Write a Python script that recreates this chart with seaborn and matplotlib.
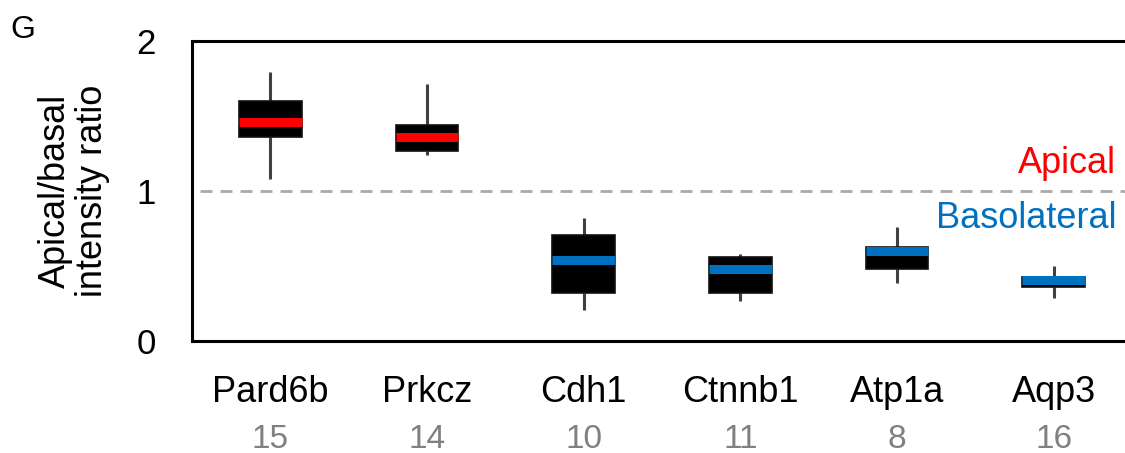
import numpy as np
import pandas as pd
import matplotlib

matplotlib.use("Agg")
import matplotlib.pyplot as plt
import seaborn as sns

# -------------------------
# Data (five-number summaries)
# -------------------------
genes = ["Pard6b", "Prkcz", "Cdh1", "Ctnnb1", "Atp1a", "Aqp3"]
n_cells = [15, 14, 10, 11, 8, 16]
whisker_low = [1.08, 1.24, 0.21, 0.27, 0.39, 0.29]
q1 = [1.36, 1.27, 0.32, 0.32, 0.48, 0.36]
median = [1.46, 1.36, 0.54, 0.48, 0.60, 0.41]
q3 = [1.60, 1.44, 0.71, 0.56, 0.625, 0.43]
whisker_high = [1.79, 1.71, 0.82, 0.58, 0.76, 0.50]
polarity = ["Apical", "Apical", "Basolateral", "Basolateral", "Basolateral", "Basolateral"]

RED = "#ff0000"
BLUE = "#0070c0"
polarity_colors = {"Apical": RED, "Basolateral": BLUE}

# long table: 5 values per gene -> quartiles land exactly on q1 / median / q3
rows = []
for i, g in enumerate(genes):
    for v in (whisker_low[i], q1[i], median[i], q3[i], whisker_high[i]):
        rows.append({"gene": g, "ratio": v})
df = pd.DataFrame(rows)

# -------------------------
# Plot
# -------------------------
sns.set_style("white")
plt.rcParams["font.family"] = ["Liberation Sans", "DejaVu Sans"]
plt.rcParams["text.color"] = "black"
plt.rcParams["axes.labelcolor"] = "black"
plt.rcParams["xtick.color"] = "black"
plt.rcParams["ytick.color"] = "black"

fig = plt.figure(figsize=(11.25, 4.53), dpi=100)
ax = fig.add_axes([0.1707, 0.2472, 0.8356, 0.6623])

sns.boxplot(
    data=df, x="gene", y="ratio", order=genes, ax=ax,
    width=0.4, whis=(0, 100), showcaps=False, showfliers=False,
    color="black", linecolor="#111111", linewidth=1.2,
    boxprops=dict(facecolor="black", zorder=2),
    whiskerprops=dict(color="#404040", linewidth=2.2, zorder=1),
    medianprops=dict(linewidth=6.5, solid_capstyle="butt", zorder=3),
)

for i, line in enumerate(ax.containers[0].medians):
    line.set_color(polarity_colors[polarity[i]])

ax.axhline(1, xmin=0.008, color="#aaaaaa", linewidth=2, dashes=(4.3, 2.9), zorder=0)

ax.text(5.4, 1.12, "Apical", color=RED, fontsize=26, ha="right", va="baseline")
ax.text(5.4, 0.753, "Basolateral", color=BLUE, fontsize=26, ha="right", va="baseline")

ax.set_xlim(-0.5, 5.5)
ax.set_ylim(0, 2)
ax.set_yticks([0, 1, 2])
ax.tick_params(axis="y", length=0, pad=26, labelsize=25)
ax.tick_params(axis="x", length=0, pad=24.5)
ax.set_xticks(range(len(genes)))
ax.set_xticklabels(genes, fontsize=26)
ax.set_xlabel("")

for i, n in enumerate(n_cells):
    ax.text(i, -0.357, str(n), transform=ax.get_xaxis_transform(),
            ha="center", va="baseline", fontsize=24, color="#808080")

ax.set_ylabel("Apical/basal\nintensity ratio", fontsize=26, linespacing=1.1)
ax.yaxis.set_label_coords(-0.087, 0.5)

for s in ax.spines.values():
    s.set_visible(True)
    s.set_color("black")
    s.set_linewidth(2.2)
ax.spines["right"].set_visible(False)

fig.text(10 / 1125, 1 - 38 / 453, "G", fontsize=23, va="baseline")

fig.savefig("out.png", dpi=100)
